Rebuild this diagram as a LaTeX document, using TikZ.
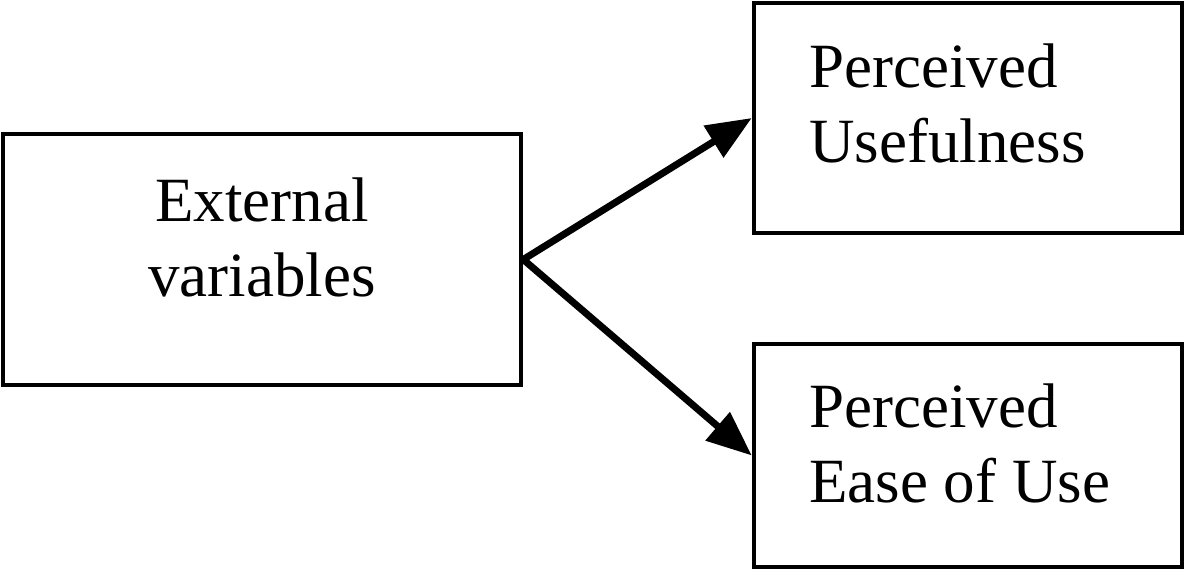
\documentclass[tikz,border=0pt]{standalone}
\usepackage{fontspec}
\setmainfont{Liberation Serif}
\usetikzlibrary{arrows.meta,positioning}

\begin{document}
\begin{tikzpicture}[x=1pt,y=-1pt,
  box/.style={draw,line width=4.5pt,inner sep=0pt,minimum width=428pt},
  txt/.style={inner sep=0pt,font=\fontsize{63}{75}\selectfont,
    execute at begin node={\spaceskip=.25em\relax}}]
\useasboundingbox (0,0) rectangle (1186,572);
\node[box,minimum width=518pt,minimum height=251pt] (ext_v) at (262,259.5) {};
\node[box,minimum height=230pt] (p_u) at (968,118) {};
\node[box,minimum height=223pt] (p_eou) at (968,455.5) {};

\node[txt,text width=400pt,align=center,anchor=base] (ext_t) at (262,222) {External\\variables};
\node[txt,text width=360pt,anchor=base west] (p_u_t) at (809,88) {Perceived\\Usefulness};
\node[txt,text width=360pt,anchor=base west] (p_eou_t) at (809,427) {Perceived\\Ease of Use};

\path[-{Triangle[length=45pt,width=36pt]},line width=7pt]
(ext_v.east) edge (p_u.west)
             edge (p_eou.west)
;
\end{tikzpicture}
\end{document}
